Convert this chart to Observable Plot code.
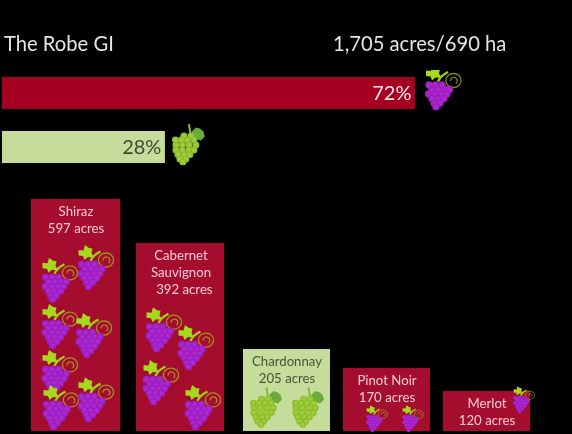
<!DOCTYPE html>
<html>
<head>
<meta charset="utf-8">
<script src="https://cdn.jsdelivr.net/npm/d3@7"></script>
<script src="https://cdn.jsdelivr.net/npm/@observablehq/plot@0.6"></script>
<style>
html,body{margin:0;padding:0;background:#000;overflow:hidden}
#page{position:relative;width:572px;height:434px;background:#000;filter:blur(.7px);font-family:Lato,sans-serif}
#head{position:absolute;left:0;top:0;width:572px;height:70px}
#head span{position:absolute;top:30px;font-size:20.2px;line-height:26px;color:#e4e4e4;white-space:nowrap}
#share{position:absolute;left:0;top:70px}
#vars{position:absolute;left:0;top:190px}
svg{display:block;background:transparent}
</style>
</head>
<body>
<div id="page">
  <div id="head"><span id="t1" style="left:4px"></span><span id="t2" style="left:333px"></span></div>
  <div id="share"></div>
  <div id="vars"></div>
</div>
<script>
const title = "The Robe GI";
const totals = "1,705 acres/690 ha";

// Red / white split
const groups = ["Red", "White"];
const shareBars = [72, 28.4];
const shareLabels = ["72%", "28%"];

// Varieties
const varieties = ["Shiraz", "Cabernet Sauvignon", "Chardonnay", "Pinot Noir", "Merlot"];
const barHeights = [597, 484, 211, 162, 103];
const varietyLabels = [
  "Shiraz\n597 acres",
  "Cabernet\nSauvignon\n\u00a0\u00a0392 acres",
  "Chardonnay\n205 acres",
  "Pinot Noir\n170 acres",
  "Merlot\n120 acres"
];
const varietyKinds = ["red", "red", "white", "red", "red"];

// Grape icons sitting on each bar: [variety index, level on the acres scale, offset from bar centre]
const grapeIcons = [
  [0,422,20],[0,389,-16],[0,270,-16],[0,247,18],[0,152,-16],[0,62,-15],[0,82,20],
  [1,262,-17],[1,216,15],[1,126,-20],[1,62,22],
  [2,62,-21],[2,62,21],
  [3,33,-10],[3,33,26],
  [4,82,37]
];

const RED = "#a50022", BAR = "#a50d2e", PALE = "#c5dc9b";
const barNudge = [0, 2, 6, 4, 2];
const barGrow = [2, 1, 0, 0, 0];
const textNudge = [-1, 0, 0, 0, 0];

function circles(rows, r, fill, shine) {
  return rows.map(([y, xs]) => xs.map(x =>
    `<circle cx="${x}" cy="${y}" r="${r}" fill="${fill}"/><circle cx="${x}" cy="${y}" r="${r * .55}" fill="${shine}"/>`
  ).join("")).join("");
}
function uri(svg){ return "data:image/svg+xml," + encodeURIComponent(svg); }

const purpleIcon = uri(`<svg xmlns="http://www.w3.org/2000/svg" viewBox="0 0 37 45" width="37" height="45">
<g fill="none" stroke="#a9b81c" stroke-opacity=".75" stroke-width="1.3"><ellipse cx="28.5" cy="15" rx="7.6" ry="7"/><path d="M25.5 15.5a3.4 3.4 0 1 1 5.5 2.5"/></g>
<path d="M13 16 C15 11 18 9 23 6.5" fill="none" stroke="#a6c81e" stroke-width="2.3"/>
<path d="M1 5 L6 5.5 L7.5 0 L11.5 3 L15 3.5 L14 8 L16.5 12.5 L10.5 12 L7 15 L5.5 11 L1 10.5 Z" fill="#a6d81c"/>
${circles([[19.5,[4,10.5,17]],[24,[7,13.5,20,24.5]],[28.5,[3.5,10,16.5,22]],[33,[7,13,19]],[37.5,[9,15]],[41.5,[11]]],3.7,"#a01ec6","#ab2ccc")}
</svg>`);

const greenIcon = uri(`<svg xmlns="http://www.w3.org/2000/svg" viewBox="0 0 33 42" width="33" height="42">
<path d="M17 0.5 L19 13" fill="none" stroke="#8cb83a" stroke-width="2"/>
<path d="M20 8 L24 4 L28 5 L31.5 8 L33 13 L29 17 L24 15.5 L20 13 Z" fill="#6aab3c"/>
${circles([[12.5,[12,19]],[16.5,[3.5,9.5,15.5,22]],[21.5,[4,10.5,17,24]],[26.5,[4,10.5,17,22]],[31,[6,12.5,18]],[35.5,[8,14]],[38.5,[11]]],3.5,"#8fbf2c","#a2cc42")}
</svg>`);

document.getElementById("t1").textContent = title;
document.getElementById("t2").textContent = totals;

const shareRows = groups.map((g, i) => ({group: g, value: shareBars[i], label: shareLabels[i]}));
const share = Plot.plot({
  width: 572, height: 120,
  margin: 0,
  x: {domain: [0, 72], range: [2, 415], axis: null},
  y: {domain: groups, range: [7, 93.4], paddingInner: .4, paddingOuter: 0, axis: null},
  style: {background: "transparent"},
  marks: [
    Plot.barX(shareRows, {x: "value", y: "group", fill: d => d.group === "Red" ? RED : PALE}),
    Plot.text(shareRows, {x: "value", y: "group", text: "label", textAnchor: "end", dx: -4, fontSize: 20,
      fontFamily: "Lato, sans-serif", fill: d => d.group === "Red" ? "#f4e6e6" : "#3d4a32"}),
    Plot.image([shareRows[0]], {x: "value", y: "group", src: purpleIcon, width: 37, height: 45, dx: 28, dy: -5.5}),
    Plot.image([shareRows[1]], {x: "value", y: "group", src: greenIcon, width: 33, height: 42, dx: 23, dy: -3})
  ]
});
document.getElementById("share").appendChild(share);

const rows = varieties.map((v, i) => ({variety: v, height: barHeights[i], label: varietyLabels[i], kind: varietyKinds[i]}));
const vars = Plot.plot({
  width: 572, height: 244,
  margin: 0,
  x: {domain: varieties, range: [31, 530], paddingInner: .146, paddingOuter: 0, axis: null},
  y: {domain: [0, 597], range: [241, 9], axis: null},
  style: {background: "transparent"},
  marks: [
    ...rows.map((r, i) => Plot.barY([r], {x: "variety", y: "height", dx: barNudge[i], insetLeft: -barGrow[i],
      fill: r.kind === "red" ? BAR : PALE})),
    ...rows.map((r, i) => Plot.text([r], {x: "variety", y: "height", text: "label", dx: barNudge[i] + textNudge[i],
      lineAnchor: "top", dy: 5, lineHeight: 1.27, fontSize: 13.2, fontFamily: "Lato, sans-serif",
      fill: r.kind === "red" ? "#f6ccd4" : "#46553a"})),
    ...grapeIcons.map(([vi, level, off]) => {
      const small = vi >= 3;
      const white = varietyKinds[vi] === "white";
      return Plot.image([{variety: varieties[vi], level}], {
        x: "variety", y: "level", dx: barNudge[vi] + textNudge[vi] + off,
        src: white ? greenIcon : purpleIcon,
        width: white ? 32 : small ? 22 : 37,
        height: white ? 42 : small ? 28 : 45
      });
    })
  ]
});
document.getElementById("vars").appendChild(vars);
</script>
</body>
</html>
